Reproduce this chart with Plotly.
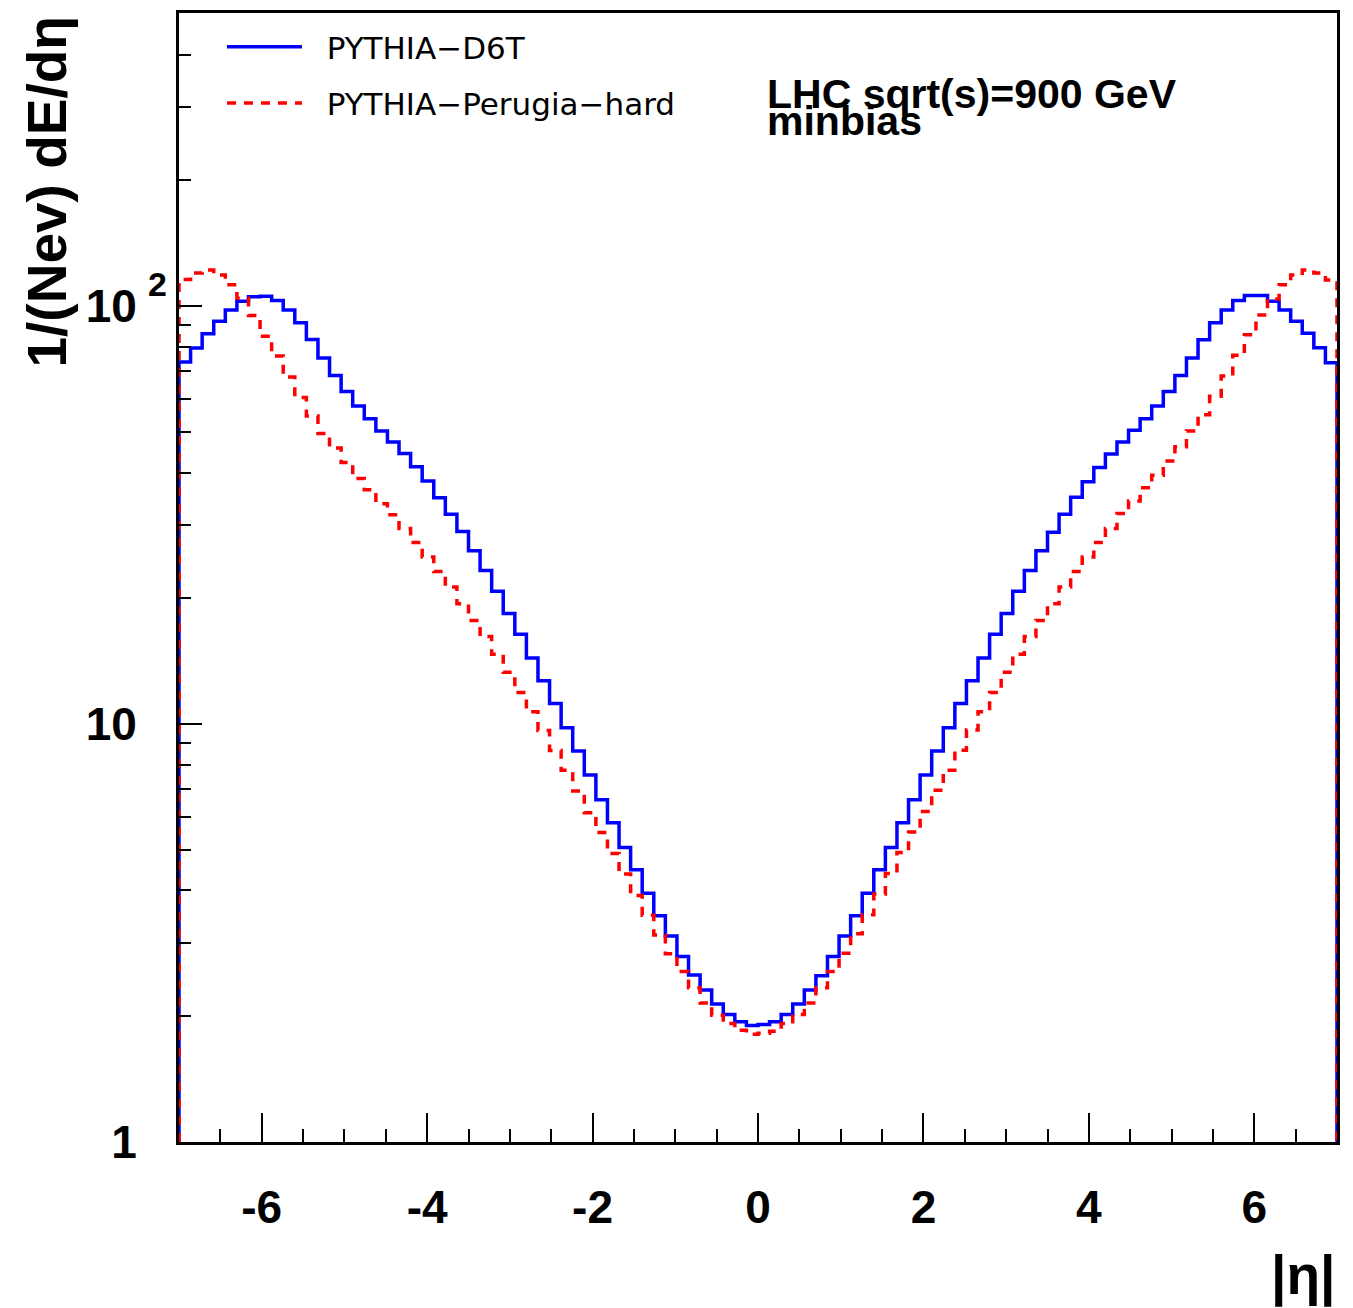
import numpy as np
import plotly.graph_objects as go

# |eta| histogram binning: 100 bins from -7 to 7
eta_min, eta_max, n_bins = -7.0, 7.0, 100

d6t = [
    73.5, 79.4, 85.9, 92.1, 98.0, 102.8, 105.4, 105.6, 103.2, 98.0,
    91.3, 83.2, 75.2, 68.3, 62.5, 57.7, 53.8, 50.3, 47.3, 44.4,
    41.3, 38.2, 34.8, 31.8, 28.9, 26.0, 23.3, 20.8, 18.4, 16.4,
    14.4, 12.7, 11.2, 9.80, 8.62, 7.55, 6.59, 5.81, 5.07, 4.48,
    3.94, 3.48, 3.11, 2.78, 2.51, 2.31, 2.14, 2.02, 1.94, 1.90,
    1.91, 1.94, 2.02, 2.14, 2.31, 2.50, 2.78, 3.11, 3.48, 3.94,
    4.48, 5.07, 5.81, 6.59, 7.55, 8.62, 9.80, 11.2, 12.7, 14.4,
    16.4, 18.4, 20.8, 23.3, 26.0, 28.8, 31.8, 34.9, 38.0, 41.1,
    44.3, 47.3, 50.5, 53.8, 57.7, 62.5, 68.3, 75.2, 83.1, 91.3,
    98.0, 103.2, 106.1, 106.1, 102.8, 98.0, 92.1, 86.2, 79.5, 73.2,
]

perugia_hard = [
    115.8, 120.1, 122.1, 118.8, 112.6, 104.5, 95.0, 84.8, 76.0, 67.7,
    60.5, 54.6, 49.6, 45.8, 42.3, 38.7, 36.4, 33.7, 31.7, 29.4,
    27.2, 25.1, 23.2, 21.3, 19.4, 17.7, 16.2, 14.7, 13.3, 11.9,
    10.7, 9.66, 8.65, 7.75, 6.92, 6.14, 5.50, 4.90, 4.38, 3.89,
    3.49, 3.13, 2.82, 2.56, 2.34, 2.15, 2.01, 1.92, 1.85, 1.81,
    1.82, 1.84, 1.92, 2.02, 2.15, 2.34, 2.56, 2.83, 3.15, 3.50,
    3.92, 4.39, 4.93, 5.52, 6.18, 6.95, 7.76, 8.66, 9.68, 10.7,
    11.9, 13.3, 14.7, 16.2, 17.7, 19.4, 21.3, 23.2, 25.1, 27.2,
    29.4, 31.9, 34.2, 36.8, 39.4, 42.6, 46.1, 50.3, 55.0, 60.9,
    68.1, 76.3, 85.4, 95.3, 104.1, 112.6, 118.8, 122.1, 120.1, 115.5,
]

series_names = ["PYTHIA\u2212D6T", "PYTHIA\u2212Perugia\u2212hard"]
x_tick_vals = [-6, -4, -2, 0, 2, 4, 6]
x_tick_text = ["-6", "-4", "-2", "0", "2", "4", "6"]
y_tick_vals = [1, 10, 100]
y_tick_text = ["1", "10", "10"]
y_minor_vals = [2, 3, 4, 5, 6, 7, 8, 9, 20, 30, 40, 50, 60, 70, 80, 90, 200, 300, 400]

edges = np.linspace(eta_min, eta_max, n_bins + 1)


def step_xy(vals):
    xs = [edges[0]] + list(edges[:-1]) + [edges[-1], edges[-1]]
    ys = [1.0] + list(vals) + [vals[-1], 1.0]
    return xs, ys


FONT = "Liberation Sans, Arial, Helvetica, sans-serif"
LEGFONT = "DejaVu Sans, Verdana, sans-serif"
NB = "\u00a0\u00a0"

fig = go.Figure()
xb, yb = step_xy(d6t)
fig.add_trace(go.Scatter(x=xb, y=yb, mode="lines", name=NB + series_names[0],
                         legendgroup="a",
                         line=dict(shape="hv", color="#0000ff", width=3.5)))
xr, yr = step_xy(perugia_hard)
fig.add_trace(go.Scatter(x=xr, y=yr, mode="lines", name=NB + series_names[1],
                         legendgroup="b",
                         line=dict(shape="hv", color="#ff0000", width=3.5, dash="9px,8px")))

# plot area in the page: x 179..1337, y 10..1142 (page has an 8px body margin)
fig.update_layout(
    width=1345, height=1300,
    margin=dict(l=171, r=16, t=2, b=166, pad=0),
    paper_bgcolor="white", plot_bgcolor="white",
    showlegend=True,
    legend=dict(x=0.0371, y=0.9938, xanchor="left", yanchor="top",
                bgcolor="rgba(0,0,0,0)", borderwidth=0,
                font=dict(family=LEGFONT, size=31, color="black"),
                itemwidth=75, tracegroupgap=13),
    xaxis=dict(range=[eta_min, eta_max], tickvals=x_tick_vals, ticktext=x_tick_text,
               ticks="inside", ticklen=29, tickwidth=2, tickcolor="black",
               minor=dict(dtick=0.5, tick0=0, ticks="inside", ticklen=13, tickwidth=2, tickcolor="black"),
               showline=True, linewidth=3, linecolor="black", mirror=True,
               showgrid=False, zeroline=False,
               tickfont=dict(family=FONT, size=46, color="black", weight="bold"),
               ticklabelstandoff=23),
    yaxis=dict(type="log", range=[0, 2.7017], tickvals=y_tick_vals, ticktext=y_tick_text,
               ticks="inside", ticklen=23, tickwidth=2, tickcolor="black",
               minor=dict(tickvals=y_minor_vals, ticks="inside", ticklen=12, tickwidth=2, tickcolor="black"),
               showline=True, linewidth=3, linecolor="black", mirror=True,
               showgrid=False, zeroline=False,
               tickfont=dict(family=FONT, size=46, color="black", weight="bold"),
               ticklabelstandoff=30),
)

annos = [
    dict(text="2", xref="paper", yref="y", x=(146 - 179) / 1158, y=2, xanchor="left",
         yanchor="middle", yshift=22, showarrow=False,
         font=dict(family=FONT, size=34, color="black", weight="bold")),
    dict(text="LHC sqrt(s)=900 GeV", xref="paper", yref="paper", x=0.506, y=(1142 - 66) / 1132,
         xanchor="left", yanchor="top", showarrow=False,
         font=dict(family=FONT, size=41, color="black", weight="bold")),
    dict(text="minbias", xref="paper", yref="paper", x=0.506, y=(1142 - 93) / 1132,
         xanchor="left", yanchor="top", showarrow=False,
         font=dict(family=FONT, size=41, color="black", weight="bold")),
    dict(text="1/(Nev) dE/dη", xref="paper", yref="paper", x=(47 - 179) / 1158, y=(1142 - 190) / 1132,
         xanchor="center", yanchor="middle", textangle=-90, showarrow=False,
         font=dict(family=FONT, size=55, color="black", weight="bold")),
    dict(text="|η|", xref="paper", yref="paper", x=1.0, y=(1142 - 1309) / 1132,
         xanchor="right", yanchor="bottom", showarrow=False,
         font=dict(family=FONT, size=55, color="black", weight="bold")),
]
fig.update_layout(annotations=annos)

fig.write_html("out.html")
